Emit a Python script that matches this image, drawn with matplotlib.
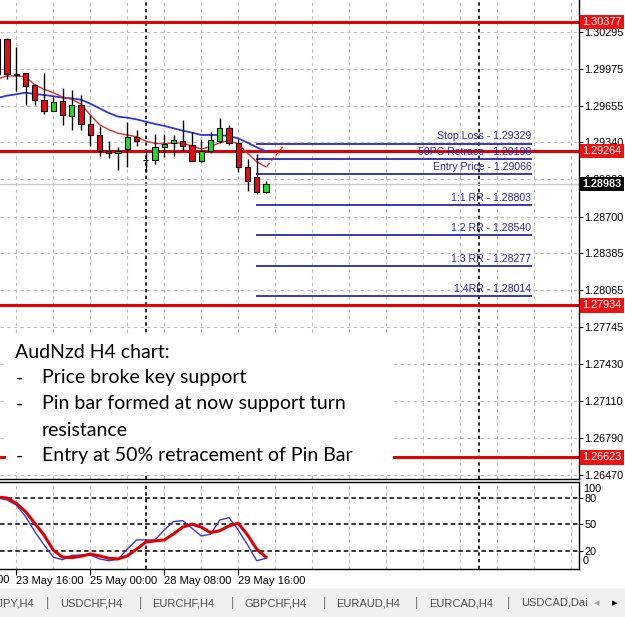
import numpy as np
import matplotlib
matplotlib.use("Agg")
import matplotlib.pyplot as plt
from matplotlib.patches import Rectangle
from matplotlib.transforms import blended_transform_factory

plt.rcParams['font.family'] = ['Liberation Sans', 'DejaVu Sans']

# candles, index 0 = 23 May 12:00 (H4)
idx = np.arange(-1, 29)
opens = [1.29930, 1.30227, 1.29925, 1.29935, 1.29833, 1.29701, 1.29614, 1.29692, 1.29566, 1.29664,
         1.29500, 1.29405, 1.29261, 1.29249, 1.29278, 1.29385, 1.29189, 1.29189, 1.29299, 1.29336,
         1.29355, 1.29318, 1.29183, 1.29269, 1.29355, 1.29462, 1.29336, 1.29126, 1.29040, 1.28915]
highs = [1.30260, 1.30239, 1.30163, 1.29935, 1.29845, 1.29940, 1.29733, 1.29810, 1.29787, 1.29744,
         1.29571, 1.29480, 1.29355, 1.29299, 1.29514, 1.29450, 1.29269, 1.29413, 1.29413, 1.29399,
         1.29528, 1.29428, 1.29370, 1.29433, 1.29551, 1.29491, 1.29370, 1.29198, 1.29241, 1.29010]
lows = [1.29860, 1.29888, 1.29784, 1.29664, 1.29664, 1.29586, 1.29606, 1.29485, 1.29448, 1.29442,
        1.29312, 1.29221, 1.29204, 1.29097, 1.29126, 1.29312, 1.29083, 1.29154, 1.29212, 1.29226,
        1.29269, 1.29183, 1.29174, 1.29249, 1.29336, 1.29318, 1.29083, 1.28924, 1.28896, 1.28904]
closes = [1.30230, 1.29931, 1.29921, 1.29828, 1.29701, 1.29614, 1.29687, 1.29577, 1.29658, 1.29500,
          1.29399, 1.29261, 1.29247, 1.29269, 1.29385, 1.29347, 1.29189, 1.29299, 1.29327, 1.29364,
          1.29312, 1.29183, 1.29269, 1.29362, 1.29462, 1.29333, 1.29126, 1.29010, 1.28910, 1.28983]

ma_fast = [1.29886, 1.29912, 1.29912, 1.29905, 1.29836, 1.29797, 1.29768, 1.29730, 1.29711, 1.29670,
           1.29575, 1.29492, 1.29449, 1.29418, 1.29403, 1.29388, 1.29349, 1.29331, 1.29325, 1.29337,
           1.29331, 1.29308, 1.29282, 1.29302, 1.29337, 1.29354, 1.29325, 1.29245, 1.29173, 1.29127]
ma_slow = [1.29722, 1.29742, 1.29754, 1.29768, 1.29756, 1.29748, 1.29737, 1.29725, 1.29719, 1.29707,
           1.29673, 1.29633, 1.29593, 1.29561, 1.29552, 1.29538, 1.29518, 1.29498, 1.29481, 1.29461,
           1.29440, 1.29423, 1.29403, 1.29403, 1.29403, 1.29394, 1.29374, 1.29337, 1.29297, 1.29262]

stoch_main = [80, 77.8, 72, 59, 42, 27, 13, 10, 15, 15.5, 15.5, 11, 9, 10.6, 22, 32.5, 32.5, 32.5, 43.8, 53.3,
              54.4, 45.7, 37, 39, 55, 57.8, 43.8, 27, 9, 11.7]
stoch_signal = [81, 80, 74, 64.6, 51.4, 38, 21, 13, 12.5, 14, 16.6, 14.4, 11.7, 11, 14.4, 22, 30, 31.4, 32.5, 39.3,
                47, 50.3, 47, 40.8, 43, 48.3, 51.4, 38.2, 22, 13]

red_levels = [1.30377, 1.29264, 1.27934, 1.26623]
bid = 1.28983
fibo_names = ["Stop Loss", "50PC Retrace", "Entry Price", "1:1 RR", "1:2 RR", "1:3 RR", "1:4RR"]
fibo_prices = [1.29329, 1.29198, 1.29066, 1.28803, 1.28540, 1.28277, 1.28014]
fibo_from, fibo_to = 26.9, 56.8

price_ticks = [1.30295, 1.29975, 1.29655, 1.29340, 1.29020, 1.28700, 1.28385, 1.28065,
               1.27745, 1.27430, 1.27110, 1.26790, 1.26470]
time_pos = [-7, 1, 9, 17, 25]
time_labels = ["22 May 08:00", "23 May 16:00", "25 May 00:00", "28 May 08:00", "29 May 16:00"]
grid_pos = np.arange(1, 62, 4)
week_sep = [15, 51]

tabs = ["USDJPY,H4", "USDCHF,H4", "EURCHF,H4", "GBPCHF,H4", "EURAUD,H4", "EURCAD,H4", "USDCAD,Daily"]

notes = ["Price broke key support", "Pin bar formed at now support turn", "resistance",
         "Entry at 50% retracement of Pin Bar"]
note_dash = [True, True, False, True]

W, H = 625, 617
fig = plt.figure(figsize=(W / 100, H / 100), dpi=100)

def fx(px):
    return px / W

def fy(py):
    return 1 - py / H

xlo, xhi = -7 / 9.25, 572 / 9.25

ax = fig.add_axes([0, fy(479), fx(579), 479 / H])
ax.set_xlim(xlo, xhi)
ax.set_ylim(1.264373, 1.305667)
ax_s = fig.add_axes([0, fy(569), fx(579), 87 / H])
ax_s.set_xlim(xlo, xhi)
ax_s.set_ylim(-0.4, 98.1)

grid_col = '#bdbdbd'
for a in (ax, ax_s):
    a.vlines(grid_pos, *a.get_ylim(), colors=grid_col, linestyles=(0, (3, 3)), linewidth=0.8, zorder=0)
    a.vlines(week_sep, *a.get_ylim(), colors='black', linestyles=(0, (2, 2)), linewidth=1.2, zorder=0.5)
    a.spines['left'].set_visible(False)
    for s in ('right', 'bottom', 'top'):
        a.spines[s].set_color('black')
        a.spines[s].set_linewidth(1)
ax.spines['top'].set_visible(False)

# price axis
ax.yaxis.tick_right()
ax.set_yticks(price_ticks)
ax.set_yticklabels([f"{p:.5f}" for p in price_ticks])
ax.tick_params(axis='y', length=3, pad=1, labelsize=7.8, colors='black')
ax.set_xticks([])
ax.grid(axis='y', color=grid_col, linestyle=(0, (3, 3)), linewidth=0.8)
ax.set_axisbelow(True)

# bid line and key levels
ax.axhline(bid, color='#c8c8c8', linewidth=1, zorder=1)
for p in red_levels:
    ax.axhline(p, color='#e00000', linewidth=2.2, zorder=2)

# moving averages
ax.plot(idx, ma_slow, color='#3535d5', linewidth=1.3, zorder=3)
ax.plot(idx, ma_fast, color='#d83030', linewidth=1.0, zorder=3)

# candles
for x, o, h, l, c in zip(idx, opens, highs, lows, closes):
    ax.vlines(x, l, h, color='black', linewidth=1, zorder=4)
    col = '#1ee01e' if c > o else '#e01010'
    ax.bar(x, max(abs(c - o), 0.000015), bottom=min(o, c), width=0.58, color=col,
           edgecolor='black', linewidth=0.8, zorder=5)

# fibo object
fib_col = '#2a2aa8'
ax.hlines(fibo_prices, fibo_from, fibo_to, colors=fib_col, linewidth=1.3, zorder=3)
ax.plot([idx[-1] + 0.1, idx[-1] + 2.1], [closes[-1] + 0.0015, fibo_prices[0]], color='#e03030',
        linestyle=(0, (3, 2)), linewidth=1, zorder=3)
for n, p in zip(fibo_names, fibo_prices):
    ax.annotate(f"{n} - {p:.5f}", (fibo_to - 0.1, p), xytext=(0, 1.5), textcoords='offset points',
                ha='right', va='bottom', fontsize=7.6, color=fib_col, zorder=3)

# price tags
tr = blended_transform_factory(ax.transAxes, ax.transData)
for p in red_levels:
    ax.text(1.0 + 3.5 / 579, p, f"{p:.5f}", transform=tr, ha='left', va='center', fontsize=7.8,
            color='white', clip_on=False, zorder=6,
            bbox=dict(boxstyle='square,pad=0.2', fc='#ee1111', ec='none'))
ax.text(1.0 + 3.5 / 579, bid, f"{bid:.5f}", transform=tr, ha='left', va='center', fontsize=7.8,
        color='white', fontweight='bold', clip_on=False, zorder=6,
        bbox=dict(boxstyle='square,pad=0.2', fc='black', ec='none'))

# stochastic
ax_s.hlines([20, 50, 80], xlo, xhi, colors='black', linestyles=(0, (3, 2)), linewidth=1.1, zorder=1)
ax_s.plot(idx, stoch_main, color='#3a3ad0', linewidth=1.0, zorder=3)
ax_s.plot(idx, stoch_signal, color='#dd0000', linewidth=2.2, zorder=3)
ax_s.yaxis.tick_right()
ax_s.set_yticks([20, 50, 80])
ax_s.set_yticklabels(["20", "50", "80"])
ax_s.tick_params(axis='y', length=3, pad=1, labelsize=7.8)
trs = blended_transform_factory(ax_s.transAxes, ax_s.transData)
ax_s.text(1.0 + 4 / 579, 90, "100", transform=trs, ha='left', va='center', fontsize=7.8)
ax_s.text(1.0 + 4 / 579, 8.5, "0", transform=trs, ha='left', va='center', fontsize=7.8)

ax_s.set_xticks(time_pos[1:])
ax_s.set_xticklabels(time_labels[1:], ha='left')
ax_s.tick_params(axis='x', length=4, pad=1, labelsize=8, direction='out')
trx = blended_transform_factory(ax_s.transData, ax_s.transAxes)
ax_s.text(time_pos[0], -0.07, time_labels[0], transform=trx, ha='left', va='top', fontsize=8, clip_on=False)

# note box
fig.patches.append(Rectangle((fx(6), fy(472)), fx(387), 138 / H, transform=fig.transFigure,
                             fc='white', ec='none', zorder=2))
note_font = dict(family=['Lato', 'DejaVu Sans'], fontsize=14, color='black', va='center')
fig.text(fx(15), fy(352), "AudNzd H4 chart:", **note_font)
for i, (t, d) in enumerate(zip(notes, note_dash)):
    yy = 378 + 26 * i
    if d:
        fig.text(fx(16), fy(yy), "-", **note_font)
    fig.text(fx(42), fy(yy), t, **note_font)

# tab bar
fig.patches.append(Rectangle((0, 0), 1, fy(589), transform=fig.transFigure, fc='#f0f0f0',
                             ec='none', zorder=2))
fig.add_artist(plt.Line2D([0, 1], [fy(588.5)] * 2, color='#c8c8c8', linewidth=1, transform=fig.transFigure))
for i, t in enumerate(tabs):
    left = 60 + 92.2 * (i - 1)
    fig.text(fx(left + (66 if i == 0 else 0)), fy(603), t, ha='right' if i == 0 else 'left', va='center',
             fontsize=8, color='#505050')
    if i > 0:
        fig.text(fx(left - 12), fy(603), "|", ha='center', va='center', fontsize=9, color='#707070')
fig.patches.append(Rectangle((fx(587), 0), fx(38), fy(590), transform=fig.transFigure, fc='#f0f0f0',
                             ec='none', zorder=4))
fig.text(fx(597), fy(603), "◂", ha='center', va='center', fontsize=8, color='#a0a0a0',
         family='DejaVu Sans', zorder=5)
fig.text(fx(615), fy(603), "▸", ha='center', va='center', fontsize=8, color='black',
         family='DejaVu Sans', zorder=5)

fig.savefig("out.png", dpi=100)
